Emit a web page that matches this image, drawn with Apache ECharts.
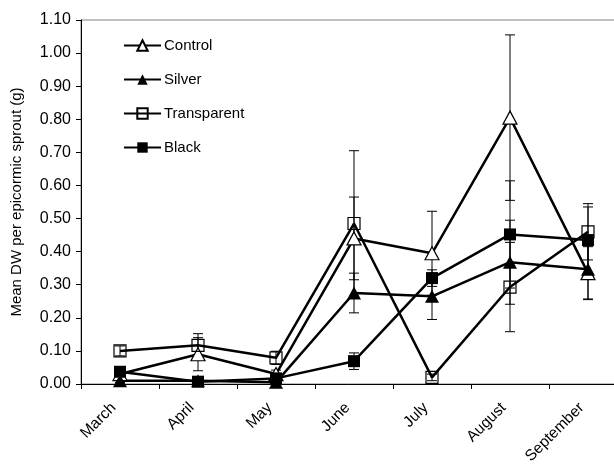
<!DOCTYPE html>
<html>
<head>
<meta charset="utf-8">
<script src="https://cdn.jsdelivr.net/npm/echarts@6/dist/echarts.min.js"></script>
<style>
  html, body { margin: 0; padding: 0; background: #fff; }
  #chart { width: 614px; height: 466px; }
</style>
</head>
<body>
<div id="chart"></div>
<script>
// Mean dry weight per epicormic sprout, by month and shelter treatment
const months = ['March', 'April', 'May', 'June', 'July', 'August', 'September'];

const control        = [0.030, 0.090, 0.030, 0.440, 0.395, 0.805, 0.335];
const controlErr     = [0.010, 0.050, 0.012, 0.125, 0.127, 0.250, 0.080];

const silver         = [0.010, 0.010, 0.005, 0.275, 0.265, 0.368, 0.347];
const silverErr      = [0.005, 0.005, 0.005, 0.060, 0.070, 0.127, 0.090];

const transparent    = [0.100, 0.117, 0.079, 0.485, 0.020, 0.293, 0.460];
const transparentErr = [0.015, 0.035, 0.020, 0.220, 0.010, 0.135, 0.085];

const black          = [0.037, 0.007, 0.017, 0.069, 0.320, 0.452, 0.435];
const blackErr       = [0.010, 0.005, 0.005, 0.025, 0.025, 0.162, 0.100];

const yTicks = { min: 0, max: 1.1, step: 0.1 };

const FONT = 'Liberation Sans, Arial, sans-serif';

function errorData(vals, errs) {
  return vals.map((v, i) => [i, v, errs[i]]);
}

// Vertical error bar with short caps at both ends
function renderErrorBar(params, api) {
  const x = api.value(0);
  const v = api.value(1);
  const e = api.value(2);
  const hi = api.coord([x, v + e]);
  const lo = api.coord([x, Math.max(0, v - e)]);
  const half = 5;
  const style = { stroke: '#000', lineWidth: 1 };
  return {
    type: 'group',
    children: [
      { type: 'line', shape: { x1: hi[0], y1: hi[1], x2: lo[0], y2: lo[1] }, style },
      { type: 'line', shape: { x1: hi[0] - half, y1: hi[1], x2: hi[0] + half, y2: hi[1] }, style },
      { type: 'line', shape: { x1: lo[0] - half, y1: lo[1], x2: lo[0] + half, y2: lo[1] }, style }
    ]
  };
}

function errSeries(vals, errs) {
  return {
    type: 'custom',
    renderItem: renderErrorBar,
    data: errorData(vals, errs),
    z: 1,
    silent: true,
    clip: false,
    encode: { x: 0, y: 1 }
  };
}

function lineSeries(name, vals, symbol, size, fill, borderW) {
  return {
    name,
    type: 'line',
    data: vals,
    symbol,
    symbolSize: size,
    showAllSymbol: true,
    z: 3,
    lineStyle: { color: '#000', width: 2.5 },
    itemStyle: { color: fill, borderColor: '#000', borderWidth: borderW },
    emphasis: { disabled: true }
  };
}

const chart = echarts.init(document.getElementById('chart'), null, { renderer: 'canvas' });

chart.setOption({
  animation: false,
  backgroundColor: '#fff',
  grid: {
    // the plot area runs past the right edge of the canvas
    left: 81, width: 546, top: 20, height: 364,
    outerBoundsMode: 'none',
    containLabel: false,
    show: true, borderColor: '#808080', borderWidth: 1, backgroundColor: 'transparent'
  },
  legend: {
    orient: 'vertical',
    left: 123, top: 38, padding: 0,
    itemWidth: 37, itemHeight: 13, itemGap: 19,
    textStyle: { fontFamily: FONT, fontSize: 15, color: '#000', padding: [0, 0, 0, -2] },
    data: ['Control', 'Silver', 'Transparent', 'Black']
  },
  xAxis: {
    type: 'category',
    data: months,
    boundaryGap: true,
    axisLine: { lineStyle: { color: '#000', width: 1 } },
    axisTick: { show: true, length: 5, lineStyle: { color: '#000' } },
    axisLabel: {
      rotate: 45, fontFamily: FONT, fontSize: 15.5, color: '#000',
      margin: 15, padding: [0, 9, 0, 0]
    },
    splitLine: { show: false }
  },
  yAxis: {
    type: 'value',
    min: yTicks.min, max: yTicks.max, interval: yTicks.step,
    name: 'Mean DW per epicormic sprout (g)',
    nameLocation: 'middle',
    nameGap: 57,
    nameTextStyle: { fontFamily: FONT, fontSize: 15, color: '#000' },
    axisLine: { show: true, lineStyle: { color: '#000', width: 1 } },
    axisTick: { show: true, length: 5, lineStyle: { color: '#000' } },
    axisLabel: {
      fontFamily: FONT, fontSize: 16, color: '#000', margin: 10,
      formatter: v => v.toFixed(2)
    },
    splitLine: { show: false }
  },
  series: [
    errSeries(control, controlErr),
    errSeries(silver, silverErr),
    errSeries(transparent, transparentErr),
    errSeries(black, blackErr),
    lineSeries('Control', control, 'triangle', [14, 13], '#fff', 1.2),
    lineSeries('Silver', silver, 'triangle', [14, 13], '#000', 0),
    lineSeries('Transparent', transparent, 'rect', 12, 'rgba(255,255,255,0)', 1.2),
    lineSeries('Black', black, 'rect', 12, '#000', 0)
  ]
});
</script>
</body>
</html>
